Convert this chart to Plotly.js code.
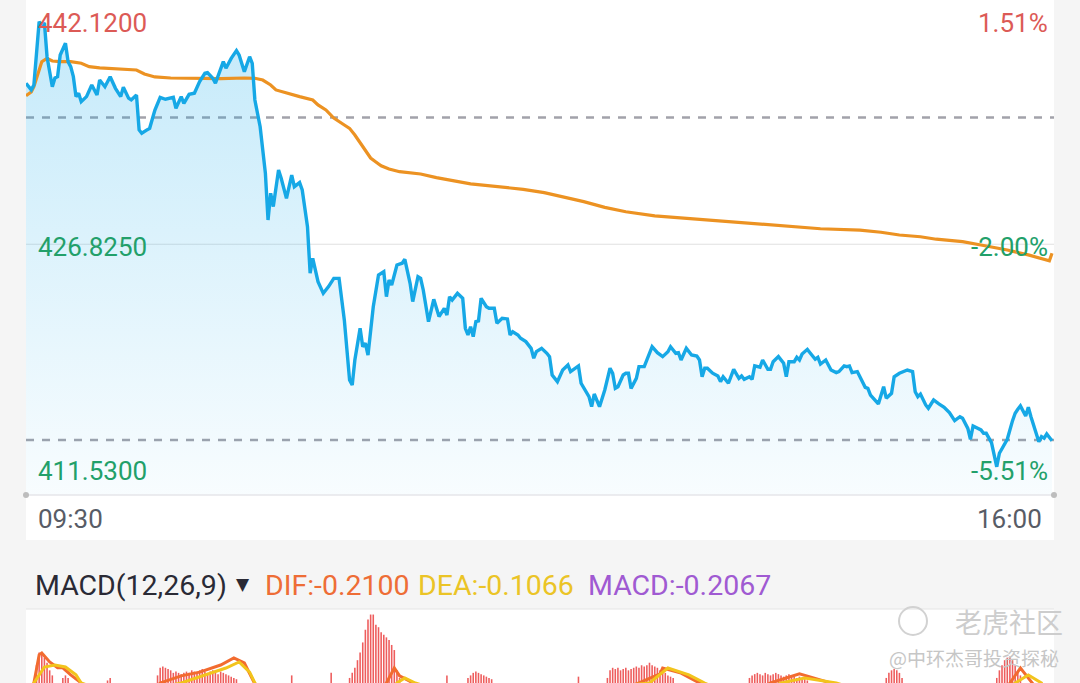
<!DOCTYPE html>
<html><head><meta charset="utf-8">
<script src="https://cdn.plot.ly/plotly-3.0.1.min.js"></script>
<style>html,body{margin:0;padding:0;background:#f5f5f5;} #chart{width:1080px;height:683px;}</style>
</head><body><div id="chart"></div>
<script>
// ---- price line (minutes after 09:30) ----
const times = [0,2,3,5,6,7,8,10,11,12,
13,15,16,17,18,19,20,21,23,25,
27,28,30,32,34,36,37,39,40,42,
43,44,46,47,49,51,53,56,57,59,
60,62,64,66,68,69,71,72,75,76,
78,80,81,83,85,86,87,89,91,92,
93,94,96,97,99,101,102,104,105,107,
108,109,111,113,115,117,119,121,123,124,
125,127,128,129,130,132,134,136,137,138,
139,141,143,144,146,147,149,150,151,153,
155,157,159,160,161,162,164,166,167,168,
169,170,171,172,173,175,176,178,179,181,
183,184,185,187,188,190,192,193,194,196,
198,199,200,202,204,206,207,210,211,213,
214,215,216,218,219,220,222,223,224,225,
227,228,229,230,232,233,235,236,237,238,
240,242,244,245,247,248,249,251,253,255,
256,257,258,259,261,263,264,265,267,268,
269,271,272,273,275,276,277,279,280,282,
283,284,286,288,289,290,292,293,294,295,
297,298,300,301,302,304,306,308,309,311,
312,313,314,316,317,319,320,321,324,326,
327,329,330,332,335,337,338,339,340,342,
343,345,347,349,351,353,355,356,358,359,
360,363,364,365,367,368,369,370,372,373,
375,376,377,378,380,381,382,384,385,386,
387,388,390];
const price = [437.89,437.43,437.77,442.12,441.89,442.03,439.71,437.65,438.25,438.34,
439.83,440.64,439.37,439.03,438.34,436.97,437.20,436.62,436.97,437.77,
437.08,438.11,437.65,438.34,437.54,436.97,437.61,436.86,436.74,437.08,
434.68,434.45,434.68,434.79,436.05,436.92,436.79,436.92,436.17,436.97,
436.51,437.13,437.20,438.00,438.57,438.62,438.23,437.89,439.37,438.92,
439.60,440.13,439.83,438.68,439.71,439.26,436.74,434.90,431.70,428.49,
430.33,429.41,431.93,431.36,429.98,431.58,430.78,431.06,430.55,428.03,
424.83,425.86,424.25,423.45,423.91,424.48,424.48,421.62,417.49,417.15,
418.87,421.05,419.78,420.02,419.21,422.53,424.71,424.94,423.22,424.37,
424.02,425.40,425.52,425.79,424.14,422.88,424.59,424.48,423.68,421.50,
423.04,421.85,422.42,421.96,423.22,422.99,423.45,423.11,421.05,420.59,
421.16,420.47,421.50,421.55,423.11,422.53,422.42,422.42,421.39,421.74,
421.69,420.59,420.81,420.59,420.36,420.13,419.67,418.99,419.44,419.67,
419.33,419.10,417.84,417.38,418.18,418.53,418.07,418.46,417.27,416.69,
416.35,415.66,416.53,415.66,416.24,416.81,418.30,417.96,416.92,417.03,
417.84,417.96,417.96,416.92,417.61,418.41,418.41,418.87,419.33,419.78,
419.37,419.10,419.44,419.78,419.33,419.37,418.87,419.67,419.21,419.14,
418.87,417.72,418.30,418.30,417.96,417.77,417.38,417.72,417.27,417.84,
418.23,417.61,417.77,417.54,417.72,417.54,418.46,418.37,418.87,418.23,
418.23,418.75,419.10,418.64,417.72,418.75,418.75,419.05,418.87,419.28,
419.60,419.37,418.92,419.05,418.59,418.87,418.18,418.00,418.07,418.46,
418.41,418.46,418.00,418.07,417.72,416.99,416.92,416.46,415.85,417.03,
416.24,416.58,417.72,417.96,418.18,418.07,416.69,416.35,416.53,415.78,
415.55,416.12,415.85,415.62,415.25,414.70,414.97,414.86,414.17,413.42,
414.33,414.06,413.83,413.83,413.19,412.22,411.53,412.46,413.03,413.42,
414.70,415.21,415.48,415.71,415.02,415.62,414.97,413.72,413.25,413.60,
413.49,413.78,413.32];

// ---- average price line ----
const avgTimes = [0,2,3,5,6,8,10,13,17,21,24,28,36,42,45,49,55,65,74,83,
87,90,93,95,100,104,109,111,114,117,121,123,125,127,129,131,133,135,138,142,
150,156,169,181,189,197,205,212,220,228,239,250,264,276,289,302,317,325,332,340,
346,356,363,373,381,388,389,390];
const avgPrice = [437.03,437.29,437.65,438.80,439.37,439.60,439.42,439.37,439.37,439.26,
439.03,438.94,438.87,438.80,438.53,438.32,438.25,438.20,438.20,438.25,
438.23,438.11,437.77,437.43,437.15,436.97,436.74,436.40,436.05,435.50,
435.02,434.79,434.33,433.78,433.30,432.75,432.48,432.22,432.00,431.81,
431.65,431.40,430.97,430.74,430.60,430.37,430.05,429.75,429.36,429.06,
428.77,428.61,428.42,428.22,428.03,427.89,427.80,427.65,427.46,427.34,
427.17,427.00,426.77,426.43,426.09,425.74,425.69,426.20];

// ---- reference levels ----
const priceHigh = 442.12;
const priceLow = 411.53;
const prevClose = 435.53;
const lowerGuide = 413.37;

// ---- time axis labels ----
const timeTickVals = [0, 390];
const timeLabels = ['09:30', '16:00'];

// ---- MACD panel (only the visible positive part) ----
const macdTimes = [4,5,6,7,8,9,10,14,15,16,31,32,
50,51,52,53,54,55,56,57,58,59,60,61,62,63,64,65,66,67,68,69,70,71,72,73,74,75,76,77,78,79,80,
101,116,
123,124,125,126,127,128,129,130,131,132,133,134,135,136,137,138,139,140,141,142,
160,
168,169,170,171,172,173,174,175,176,177,
210,
221,222,223,224,225,226,227,228,229,230,231,232,233,234,235,236,237,238,239,240,241,242,243,244,245,246,
275,276,277,278,279,280,281,282,283,284,285,286,287,288,289,290,291,292,293,294,295,296,297,
327,328,329,330,331,332,333,
369,370,371,372,373,374,375,376,377,378];
const macdHist = [0.09,0.14,0.13,0.12,0.10,0.07,0.05,0.04,0.05,0.04,0.03,0.04,
0.05,0.08,0.085,0.08,0.075,0.07,0.06,0.065,0.06,0.055,0.06,0.065,0.06,0.07,0.065,0.06,0.07,0.075,0.065,0.06,0.065,0.07,0.06,0.055,0.065,0.06,0.055,0.05,0.045,0.04,0.035,
0.05,0.06,
0.04,0.06,0.08,0.11,0.14,0.18,0.23,0.27,0.29,0.29,0.25,0.24,0.22,0.21,0.20,0.19,0.17,0.15,0.07,0.04,
0.05,
0.04,0.05,0.06,0.065,0.06,0.055,0.05,0.045,0.04,0.035,
0.045,
0.04,0.07,0.08,0.075,0.08,0.07,0.075,0.08,0.07,0.075,0.08,0.085,0.08,0.09,0.085,0.09,0.10,0.09,0.085,0.08,0.07,0.065,0.06,0.05,0.045,0.04,
0.04,0.05,0.055,0.06,0.055,0.05,0.06,0.055,0.05,0.055,0.06,0.055,0.05,0.045,0.05,0.055,0.05,0.045,0.04,0.045,0.04,0.035,0.03,
0.04,0.06,0.07,0.075,0.07,0.06,0.04,
0.04,0.07,0.09,0.11,0.12,0.125,0.11,0.09,0.07,0.05];
const difTimes = [0,3,5,6,9,12,14,17,21,30,45,51,59,66,74,79,83,87,95,110,
120,137,140,142,147,160,190,213,233,241,242,249,256,270,283,294,306,320,345,360,
374,378,384,390];
const difVals = [-0.05,0.02,0.131,0.138,0.103,0.08,0.08,0.052,0.02,-0.08,
-0.05,0.02,0.048,0.063,0.091,0.119,0.099,0.02,-0.15,-0.3,
-0.2,0.02,0.079,0.048,0.02,-0.05,-0.1,-0.05,0.02,0.056,
0.079,0.059,0.02,-0.05,0.02,0.056,0.02,-0.1,-0.2,-0.25,
0.02,0.079,0.0,-0.21];
const deaTimes = [0,3,7,11,15,19,21,35,59,68,76,81,85,87,100,125,141,144,148,170,
237,244,252,258,272,287,296,308,330,360,376,381,386,390];
const deaVals = [-0.05,0.02,0.083,0.091,0.083,0.052,0.02,-0.03,0.02,0.052,
0.079,0.103,0.063,0.02,-0.1,-0.15,0.02,0.04,0.02,-0.05,
0.02,0.079,0.052,0.02,-0.05,0.02,0.04,0.02,-0.05,-0.1,
0.02,0.052,0.02,-0.1066];
const macdHeader = ['MACD(12,26,9)', 'DIF:-0.2100', 'DEA:-0.1066', 'MACD:-0.2067'];

// ---- helpers ----
const W = 1080, H = 683, ML = 26, MR = 26;
const PW = W - ML - MR;
const px = x => (x - ML) / PW;       // pixel -> paper x
const py = y => 1 - y / H;           // pixel -> paper y
const FONT = 'Roboto, "Noto Sans", sans-serif';
const RED = '#dc5a56', GREEN = '#22a06a';
const mid = (priceHigh + priceLow) / 2;
const pct = v => ((v / prevClose - 1) * 100).toFixed(2) + '%';

const traces = [
  { x: times, y: price, type: 'scatter', mode: 'lines', fill: 'tozeroy',
    line: { width: 0, color: 'rgba(0,0,0,0)' },
    fillcolor: 'rgba(20,170,235,0.12)',
    fillgradient: { type: 'vertical', start: 409.6, stop: priceHigh,
      colorscale: [[0, 'rgba(20,170,235,0.03)'], [1, 'rgba(20,170,235,0.25)']] },
    hoverinfo: 'skip', xaxis: 'x', yaxis: 'y' },
  { x: avgTimes, y: avgPrice, type: 'scatter', mode: 'lines',
    line: { width: 3.2, color: '#ec9222' }, hoverinfo: 'skip', xaxis: 'x', yaxis: 'y' },
  { x: times, y: price, type: 'scatter', mode: 'lines',
    line: { width: 3.4, color: '#16a8e6' }, hoverinfo: 'skip', xaxis: 'x', yaxis: 'y' },
  { x: macdTimes, y: macdHist, type: 'bar', width: 0.6,
    marker: { color: '#ee5d5d', line: { width: 0 } }, hoverinfo: 'skip', xaxis: 'x2', yaxis: 'y2' },
  { x: difTimes, y: difVals, type: 'scatter', mode: 'lines',
    line: { width: 3, color: '#f26b2f' }, hoverinfo: 'skip', xaxis: 'x2', yaxis: 'y2' },
  { x: deaTimes, y: deaVals, type: 'scatter', mode: 'lines',
    line: { width: 3, color: '#f2c41c' }, hoverinfo: 'skip', xaxis: 'x2', yaxis: 'y2' }
];

const axisOff = { showgrid: false, zeroline: false, showticklabels: false, ticks: '', showline: false, fixedrange: true };
const xRange = [0, 390.76];
const layout = {
  width: W, height: H,
  margin: { l: ML, r: MR, t: 0, b: 0, pad: 0 },
  paper_bgcolor: '#f5f5f5', plot_bgcolor: 'rgba(0,0,0,0)',
  showlegend: false, bargap: 0.4,
  xaxis: Object.assign({ range: xRange, domain: [0, 1], anchor: 'y' }, axisOff),
  yaxis: Object.assign({ range: [409.59, 443.61], domain: [py(495), 1], anchor: 'x' }, axisOff),
  xaxis2: Object.assign({ range: xRange, domain: [0, 1], anchor: 'y2' }, axisOff),
  yaxis2: Object.assign({ range: [0.02, 0.30], domain: [0, py(612)], anchor: 'x2' }, axisOff),
  shapes: [
    { type: 'rect', xref: 'paper', yref: 'paper', x0: 0, x1: 1, y0: py(540), y1: 1, fillcolor: '#ffffff', line: { width: 0 }, layer: 'below' },
    { type: 'rect', xref: 'paper', yref: 'paper', x0: 0, x1: 1, y0: 0, y1: py(609), fillcolor: '#ffffff', line: { width: 0 }, layer: 'below' },
    { type: 'line', xref: 'paper', yref: 'paper', x0: 0, x1: 1, y0: py(609), y1: py(609), line: { color: '#e4e4e4', width: 1 }, layer: 'below' },
    { type: 'line', xref: 'paper', yref: 'y', x0: 0, x1: 1, y0: mid, y1: mid, line: { color: '#e0e0e0', width: 1 }, layer: 'below' },
    { type: 'line', xref: 'paper', yref: 'y', x0: 0, x1: 1, y0: prevClose, y1: prevClose, line: { color: '#a2a2aa', width: 2.5, dash: '8px,8px' }, layer: 'below' },
    { type: 'line', xref: 'paper', yref: 'y', x0: 0, x1: 1, y0: lowerGuide, y1: lowerGuide, line: { color: '#a2a2aa', width: 2.5, dash: '8px,8px' }, layer: 'below' },
    { type: 'line', xref: 'paper', yref: 'paper', x0: 0, x1: 1, y0: py(495), y1: py(495), line: { color: '#e6e6ea', width: 1.5 }, layer: 'above' },
    { type: 'circle', xref: 'paper', yref: 'paper', xsizemode: 'pixel', ysizemode: 'pixel', xanchor: 0, yanchor: py(495), x0: -3, x1: 3, y0: -3, y1: 3, fillcolor: '#bdbdbd', line: { width: 0 } },
    { type: 'circle', xref: 'paper', yref: 'paper', xsizemode: 'pixel', ysizemode: 'pixel', xanchor: 1, yanchor: py(495), x0: -3, x1: 3, y0: -3, y1: 3, fillcolor: '#bdbdbd', line: { width: 0 } },
    { type: 'circle', xref: 'paper', yref: 'paper', xsizemode: 'pixel', ysizemode: 'pixel', xanchor: px(913), yanchor: py(621), x0: -14, x1: 14, y0: -14, y1: 14, line: { color: '#d2d2d2', width: 2 } }
  ],
  annotations: []
};

const ann = layout.annotations;
const levels = [priceHigh, mid, priceLow];
const shifts = [-1, -3, -4];
levels.forEach((v, i) => {
  const col = v >= prevClose ? RED : GREEN;
  ann.push({ xref: 'paper', yref: 'y', x: px(36), y: v, yshift: shifts[i], xanchor: 'left', yanchor: 'middle',
    text: v.toFixed(4), showarrow: false, font: { family: FONT, size: 26, color: col } });
  ann.push({ xref: 'paper', yref: 'y', x: px(1050), y: v, yshift: shifts[i], xanchor: 'right', yanchor: 'middle',
    text: pct(v), showarrow: false, font: { family: FONT, size: 26, color: col } });
});
timeLabels.forEach((t, i) => {
  ann.push({ xref: 'x', yref: 'paper', x: timeTickVals[i], y: py(519), xshift: i === 0 ? 10 : -8,
    xanchor: i === 0 ? 'left' : 'right', yanchor: 'middle', text: t, showarrow: false,
    font: { family: FONT, size: 26, color: '#585c66' } });
});
const headerX = [33, 263, 416, 586];
const headerCol = ['#2a2a35', '#ee6d36', '#ebc426', '#a05ad2'];
macdHeader.forEach((t, i) => {
  ann.push({ xref: 'paper', yref: 'paper', x: px(headerX[i]), y: py(585), xanchor: 'left', yanchor: 'middle',
    text: t, showarrow: false, font: { family: FONT, size: 28.5, color: headerCol[i] } });
});
ann.push({ xref: 'paper', yref: 'paper', x: px(243), y: py(584), xanchor: 'center', yanchor: 'middle',
  text: '▼', showarrow: false, font: { family: '"DejaVu Sans", sans-serif', size: 17, color: '#2a2a35' } });
ann.push({ xref: 'paper', yref: 'paper', x: px(953), y: py(621), xanchor: 'left', yanchor: 'middle',
  text: '老虎社区', showarrow: false, font: { family: '"Noto Sans CJK SC", sans-serif', size: 27, color: '#cdcdcd' } });
ann.push({ xref: 'paper', yref: 'paper', x: px(887), y: py(657), xanchor: 'left', yanchor: 'middle',
  text: '@中环杰哥投资探秘', showarrow: false, font: { family: '"Noto Sans CJK SC", sans-serif', size: 19, color: '#c6c6c6' } });

Plotly.newPlot('chart', traces, layout, { staticPlot: true, displayModeBar: false });
</script></body></html>
